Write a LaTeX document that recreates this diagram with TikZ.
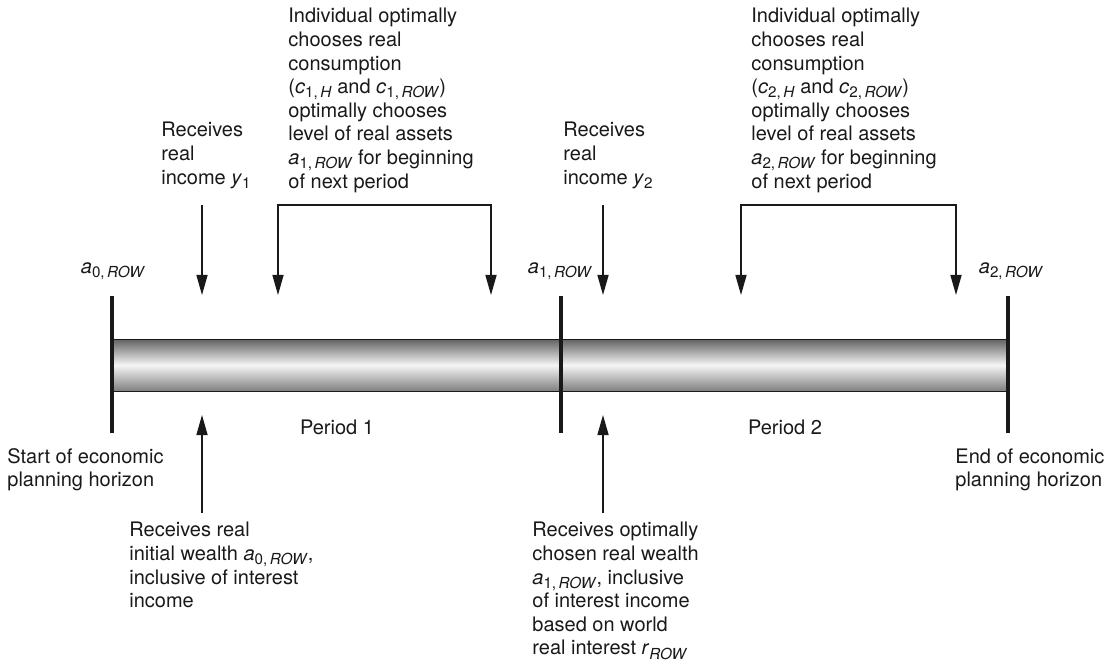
\documentclass[tikz,border=0pt]{standalone}
\usepackage{fontspec}
\setmainfont{TeX Gyre Heros}
\usepackage{tikz}
\usetikzlibrary{arrows.meta, positioning, calc}
\newcommand{\vsub}[2]{\textit{#1}\raisebox{-0.4ex}{\fontsize{7.6}{8}\selectfont #2}}
\tikzset{
  lbl/.style    = {inner sep=0pt, align=left, anchor=north west, text=black!90,
                   font=\fontsize{10}{11.8}\selectfont},
  mark lbl/.style= {inner sep=0pt, anchor=base, text=black!90,
                   font=\fontsize{10}{11.8}\selectfont},
  arr/.style    = {-{Triangle[length=10pt,width=5.5pt]}, line width=0.75pt, draw=black!90},
  barr/.style   = {{Triangle[length=10pt,width=5.5pt]}-{Triangle[length=10pt,width=5.5pt]},
                   line width=0.75pt, draw=black!90},
  tick/.style   = {line width=2.2pt, draw=black!90}
}

\begin{document}
\begin{tikzpicture}[x=0.5pt, y=-0.5pt]
  \useasboundingbox (0,0) rectangle (1113,668);

  % the time bar
  \shade[top color=black!62, bottom color=black!50, middle color=black!4]
    (112,339) rectangle (1008,391);
  \draw[line width=0.5pt, black!90] (112,339) -- (1008,339) (112,391) -- (1008,391);

  % period boundaries
  \coordinate (t0a) at (112,296); \coordinate (t0b) at (112,433);
  \coordinate (t1a) at (561,296); \coordinate (t1b) at (561,433);
  \coordinate (t2a) at (1008,296); \coordinate (t2b) at (1008,433);
  \draw[tick] (t0a) -- (t0b);
  \draw[tick] (t1a) -- (t1b);
  \draw[tick] (t2a) -- (t2b);

  \node[mark lbl] (a0) at (113,273) {\vsub{a}{0,\,\textit{ROW}}};
  \node[mark lbl] (a1) at (560,273) {\vsub{a}{1,\,\textit{ROW}}};
  \node[mark lbl] (a2) at (1011,273) {\vsub{a}{2,\,\textit{ROW}}};

  \node[lbl, anchor=center] (p1) at (337,427) {Period 1};
  \node[lbl, anchor=center] (p2) at (785,427) {Period 2};

  % texts above the bar
  \node[lbl] (inc1) at (161,122) {Receives\\real\\income \vsub{y}{1}};
  \node[lbl] (inc2) at (563,122) {Receives\\real\\income \vsub{y}{2}};
  \node[lbl] (opt1) at (288,8) {Individual optimally\\chooses real\\consumption\\
    (\vsub{c}{1,\,\textit{H}} and \vsub{c}{1,\,\textit{ROW}})\\optimally chooses\\
    level of real assets\\\vsub{a}{1,\,\textit{ROW}} for beginning\\of next period};
  \node[lbl] (opt2) at (751,8) {Individual optimally\\chooses real\\consumption\\
    (\vsub{c}{2,\,\textit{H}} and \vsub{c}{2,\,\textit{ROW}})\\optimally chooses\\
    level of real assets\\\vsub{a}{2,\,\textit{ROW}} for beginning\\of next period};

  % texts below the bar
  \node[lbl] (start) at (7,448) {Start of economic\\planning horizon};
  \node[lbl] (end) at (955,448) {End of economic\\planning horizon};
  \node[lbl] (w0) at (129,522) {Receives real\\initial wealth \vsub{a}{0,\,\textit{ROW}},\\
    inclusive of interest\\income};
  \node[lbl] (w1) at (532,522) {Receives optimally\\chosen real wealth\\
    \vsub{a}{1,\,\textit{ROW}}, inclusive\\of interest income\\based on world\\
    real interest \vsub{r}{\textit{ROW}}};

  % arrow ends
  \coordinate (y1s) at (202,205); \coordinate (y1e) at (202,295);
  \coordinate (y2s) at (603,205); \coordinate (y2e) at (603,295);
  \coordinate (c1l) at (278,295); \coordinate (c1m) at (384,205); \coordinate (c1r) at (491,295);
  \coordinate (c2l) at (741,295); \coordinate (c2m) at (848,205); \coordinate (c2r) at (956,295);
  \coordinate (w0s) at (202,513); \coordinate (w0e) at (202,415);
  \coordinate (w1s) at (603,513); \coordinate (w1e) at (603,415);

  \draw[arr] (y1s) -- (y1e);
  \draw[arr] (y2s) -- (y2e);
  \draw[barr] (c1l) |- (c1m) -| (c1r);
  \draw[barr] (c2l) |- (c2m) -| (c2r);
  \draw[arr] (w0s) -- (w0e);
  \draw[arr] (w1s) -- (w1e);
\end{tikzpicture}
\end{document}
